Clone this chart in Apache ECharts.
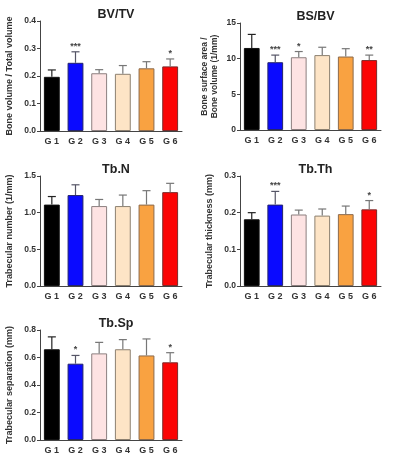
<!DOCTYPE html>
<html><head><meta charset="utf-8">
<script src="https://cdn.jsdelivr.net/npm/echarts@6/dist/echarts.min.js"></script>
<style>html,body{margin:0;padding:0;background:#fff}#c{width:400px;height:464px}</style>
</head><body><div id="c"></div>
<script>
const categories = ['G 1','G 2','G 3','G 4','G 5','G 6'];
const titles = ['BV/TV','BS/BV','Tb.N','Tb.Th','Tb.Sp'];
const yNames = ['Bone volume / Total volume','Bone surface area /\nBone volume (1/mm)','Trabecular number (1/mm)','Trabecular thickness (mm)','Trabecular separation (mm)'];
const yMax = [0.4, 15, 1.5, 0.3, 0.8];
const yInterval = [0.1, 5, 0.5, 0.1, 0.2];
// means
const bvtv = [0.197, 0.248, 0.210, 0.208, 0.228, 0.235];
const bsbv = [11.5, 9.5, 10.2, 10.5, 10.3, 9.8];
const tbn = [1.11, 1.24, 1.09, 1.09, 1.11, 1.28];
const tbth = [0.182, 0.222, 0.195, 0.192, 0.196, 0.209];
const tbsp = [0.66, 0.555, 0.63, 0.66, 0.615, 0.565];
// upper error bar ends (mean + SD)
const bvtvErr = [0.222, 0.288, 0.223, 0.238, 0.252, 0.262];
const bsbvErr = [13.4, 10.5, 11.0, 11.6, 11.4, 10.5];
const tbnErr = [1.22, 1.38, 1.18, 1.24, 1.30, 1.40];
const tbthErr = [0.200, 0.258, 0.207, 0.210, 0.218, 0.233];
const tbspErr = [0.75, 0.615, 0.71, 0.73, 0.735, 0.635];
// significance marks
const bvtvSig = ['', '***', '', '', '', '*'];
const bsbvSig = ['', '***', '*', '', '', '**'];
const tbnSig = ['', '', '', '', '', ''];
const tbthSig = ['', '***', '', '', '', '*'];
const tbspSig = ['', '*', '', '', '', '*'];

const means = [bvtv, bsbv, tbn, tbth, tbsp];
const errs = [bvtvErr, bsbvErr, tbnErr, tbthErr, tbspErr];
const sigs = [bvtvSig, bsbvSig, tbnSig, tbthSig, tbspSig];

const fills = ['#000000', '#0a0aff', '#fde3e3', '#fde4c6', '#f9a241', '#fb0404'];
const edges = ['#111111', '#25256a', '#8c7f7f', '#8c8070', '#8c6a4c', '#7a2a2a'];
const errColors = ['#222222', '#555566', '#777777', '#777777', '#777777', '#777777'];

const grids = [
  {left: 40, top: 21, width: 142, height: 110},
  {left: 240, top: 23, width: 141, height: 107},
  {left: 40, top: 176, width: 142, height: 110},
  {left: 240, top: 176, width: 141, height: 110},
  {left: 40, top: 330, width: 142, height: 110}
];
const nameGaps = [25, 20, 25, 25, 25];
const FONT = 'Liberation Sans';

const option = {
  animation: false,
  backgroundColor: '#fff',
  title: grids.map((g, i) => ({
    text: titles[i], left: g.left + g.width / 2, top: g.top - 18, textAlign: 'center',
    textStyle: {fontFamily: FONT, fontSize: 12.5, fontWeight: 'bold', color: '#222'}
  })),
  grid: grids,
  xAxis: grids.map((g, i) => ({
    type: 'category', gridIndex: i, data: categories,
    axisLine: {lineStyle: {color: '#444', width: 1}},
    axisTick: {show: false},
    axisLabel: {fontFamily: FONT, fontSize: 9, fontWeight: 'bold', color: '#333', margin: 6}
  })),
  yAxis: grids.map((g, i) => ({
    type: 'value', gridIndex: i, min: 0, max: yMax[i], interval: yInterval[i],
    name: yNames[i], nameLocation: 'middle', nameGap: nameGaps[i],
    nameTextStyle: {fontFamily: FONT, fontSize: i === 1 ? 8.5 : 9, fontWeight: 'bold', color: '#333', lineHeight: 10},
    axisLine: {show: true, lineStyle: {color: '#444', width: 1}},
    axisTick: {show: true, length: 3, lineStyle: {color: '#444'}},
    splitLine: {show: false},
    axisLabel: {fontFamily: FONT, fontSize: 8.5, fontWeight: 'bold', color: '#333', margin: 4,
      formatter: v => i === 1 ? String(v) : v.toFixed(1)}
  })),
  series: []
};

means.forEach((vals, i) => {
  option.series.push({
    type: 'bar', xAxisIndex: i, yAxisIndex: i, barWidth: '67%',
    data: vals.map((v, k) => ({value: v, itemStyle: {color: fills[k], borderColor: edges[k], borderWidth: 1}})),
    z: 2
  });
  option.series.push({
    type: 'custom', xAxisIndex: i, yAxisIndex: i, z: 3,
    data: vals.map((v, k) => [k, v, errs[i][k]]),
    renderItem: function (params, api) {
      const k = api.value(0);
      const base = api.coord([k, api.value(1)]);
      const top = api.coord([k, api.value(2)]);
      const capHalf = api.size([1, 0])[0] * 0.17;
      const col = errColors[k];
      const children = [
        {type: 'line', shape: {x1: base[0], y1: base[1], x2: top[0], y2: top[1]}, style: {stroke: col, lineWidth: 1.2}},
        {type: 'line', shape: {x1: top[0] - capHalf, y1: top[1], x2: top[0] + capHalf, y2: top[1]}, style: {stroke: col, lineWidth: 1.2}}
      ];
      const s = sigs[i][k];
      if (s) {
        children.push({type: 'text', x: top[0], y: top[1] - 1,
          style: {text: s, fill: '#444', font: 'bold 9px ' + FONT, textAlign: 'center', textVerticalAlign: 'bottom'}});
      }
      return {type: 'group', children: children};
    }
  });
});

const chart = echarts.init(document.getElementById('c'), null, {renderer: 'canvas'});
chart.setOption(option);
</script></body></html>
